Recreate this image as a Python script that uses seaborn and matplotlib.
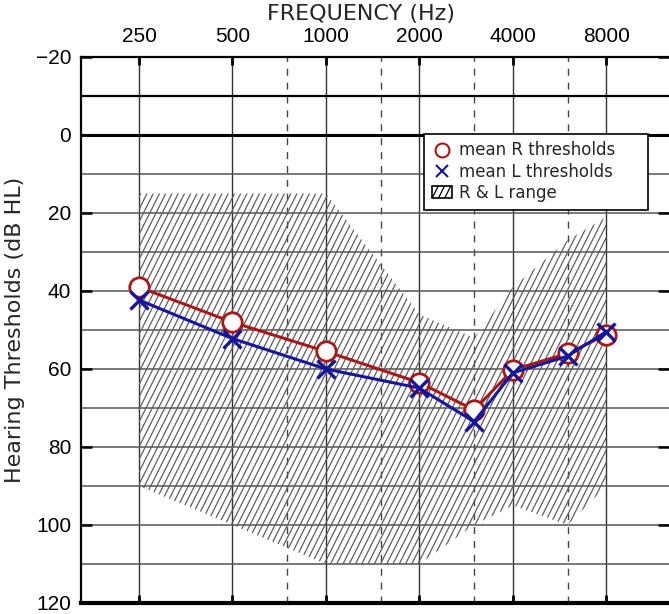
import numpy as np
import matplotlib
matplotlib.use('Agg')
import matplotlib.pyplot as plt
import matplotlib.hatch as mhatch
from matplotlib.path import Path
from matplotlib.lines import Line2D
from matplotlib.patches import Patch
from matplotlib.ticker import FixedLocator, NullFormatter, FixedFormatter
import seaborn as sns

# 数据
freqs = [250, 500, 1000, 2000, 3000, 4000, 6000, 8000]
right_thr = [39, 48, 55.5, 63.5, 70.5, 60.2, 56, 51.2]
left_thr = [42.3, 52.2, 60, 64.9, 73.5, 61, 56.7, 50.4]
range_min = [15, 15, 15, 46, 52, 39, 27, 21]
range_max = [90, 100, 110, 110, 100, 95, 100, 90]

octave_ticks = [250, 500, 1000, 2000, 4000, 8000]
half_octave_ticks = [750, 1500, 3000, 6000]
db_major = [-20, 0, 20, 40, 60, 80, 100, 120]
db_minor = [-10, 10, 30, 50, 70, 90, 110]

RED = '#a81818'
BLUE = '#16169c'
TICK_FONT = ['Liberation Sans', 'DejaVu Sans']


class SteepHatch(mhatch.HatchPatternBase):
    """比 45° 更陡的斜线填充 (dx:dy = 1:2)，线数取偶数以便无缝拼接。"""

    def __init__(self, hatch, density):
        n = int(hatch.count('/') * density * 5 / 6)
        self.num_lines = n + n % 2
        if self.num_lines:
            self.num_vertices = (int(self.num_lines * 1.5) + 2) * 2
        else:
            self.num_vertices = 0

    def set_vertices_and_codes(self, vertices, codes):
        n = self.num_vertices // 2
        x0 = (np.arange(n) - n + self.num_lines + 1) / self.num_lines
        vertices[0::2, 0] = x0
        vertices[0::2, 1] = 0.0
        vertices[1::2, 0] = x0 + 0.5
        vertices[1::2, 1] = 1.0
        codes[0::2] = Path.MOVETO
        codes[1::2] = Path.LINETO


mhatch._hatch_types = [SteepHatch if t is mhatch.NorthEastHatch else t
                       for t in mhatch._hatch_types]

sns.set_style('white')
plt.rcParams['font.family'] = ['DejaVu Sans']
plt.rcParams['hatch.linewidth'] = 0.9

fig = plt.figure(figsize=(6.69, 6.14), dpi=100)
ax = fig.add_axes([81 / 669, 11 / 614, 588 / 669, 546 / 614])

# 范围阴影
ax.fill_between(freqs, range_min, range_max, facecolor='none',
                edgecolor='#5e5e5e', hatch='///', linewidth=0, zorder=1)

sns.lineplot(x=freqs, y=right_thr, sort=False, ax=ax, color=RED,
             linewidth=2.2, marker='o', markersize=14,
             markerfacecolor='white', markeredgecolor=RED,
             markeredgewidth=2.0, zorder=4)
sns.lineplot(x=freqs, y=left_thr, sort=False, ax=ax, color=BLUE,
             linewidth=2.2, marker='x', markersize=13,
             markeredgecolor=BLUE, markeredgewidth=2.4, zorder=5)

ax.set_xscale('log', base=2)
ax.set_xlim(250 * 2 ** -0.62, 8000 * 2 ** 0.67)
ax.set_ylim(120, -20)

ax.xaxis.set_major_locator(FixedLocator(octave_ticks))
ax.xaxis.set_major_formatter(FixedFormatter([str(f) for f in octave_ticks]))
ax.xaxis.set_minor_locator(FixedLocator(half_octave_ticks))
ax.xaxis.set_minor_formatter(NullFormatter())
ax.yaxis.set_major_locator(FixedLocator(db_major))
ax.yaxis.set_minor_locator(FixedLocator(db_minor))
ax.yaxis.set_minor_formatter(NullFormatter())

ax.xaxis.tick_top()
ax.tick_params(axis='x', which='major', top=True, bottom=True, direction='in',
               length=6, width=2, labelsize=15, pad=8, colors='black')
ax.tick_params(axis='x', which='minor', top=False, bottom=False, length=0)
ax.tick_params(axis='y', which='major', left=True, right=True, direction='in',
               length=8, width=1.8, labelsize=15, pad=7, colors='black')
ax.tick_params(axis='y', which='minor', left=False, right=False, length=0)
for lab in ax.get_xticklabels() + ax.get_yticklabels():
    lab.set_family(TICK_FONT)

ax.grid(axis='x', which='major', color='#333333', linewidth=1.0, zorder=0)
ax.grid(axis='x', which='minor', color='#444444', linewidth=1.0,
        linestyle=(0, (5, 5)), zorder=0)
ax.grid(axis='y', which='both', color='#555555', linewidth=1.1, zorder=0)
ax.set_axisbelow(True)
ax.axhline(0, color='black', linewidth=2.2, zorder=2)
ax.axhline(-10, color='black', linewidth=1.6, zorder=2)

for side in ['left', 'top']:
    ax.spines[side].set_linewidth(1.6)
    ax.spines[side].set_color('black')
ax.spines['bottom'].set_linewidth(3)
ax.spines['bottom'].set_color('black')
ax.spines['right'].set_visible(False)

ax.xaxis.set_label_position('top')
ax.set_xlabel('FREQUENCY (Hz)', fontsize=16)
ax.xaxis.set_label_coords((361 - 81) / 588, 1 + 43 / 546)
ax.xaxis.label.set_va('center')
ax.set_ylabel('Hearing Thresholds (dB HL)', fontsize=16)
ax.yaxis.set_label_coords(-66 / 588, 0.5)
ax.yaxis.label.set_va('center')

handles = [
    Line2D([], [], linestyle='none', marker='o', markersize=10,
           markerfacecolor='white', markeredgecolor=RED, markeredgewidth=1.5),
    Line2D([], [], linestyle='none', marker='x', markersize=9,
           markeredgecolor=BLUE, markeredgewidth=1.5),
    Patch(facecolor='white', edgecolor='black', hatch='///', linewidth=1.2),
]
leg = ax.legend(handles, ['mean R thresholds', 'mean L thresholds', 'R & L range'],
                loc='upper left', mode='expand',
                bbox_to_anchor=((424 - 81) / 588, 1 - (134 - 57) / 546,
                                224 / 588, 0.0),
                borderaxespad=0, fontsize=12, frameon=True, fancybox=False,
                framealpha=1, edgecolor='black', handlelength=1.2,
                handletextpad=0.45, labelspacing=0.2, borderpad=0.45)
leg.get_frame().set_linewidth(1.2)
leg.set_zorder(10)

fig.savefig('out.png', dpi=100)
